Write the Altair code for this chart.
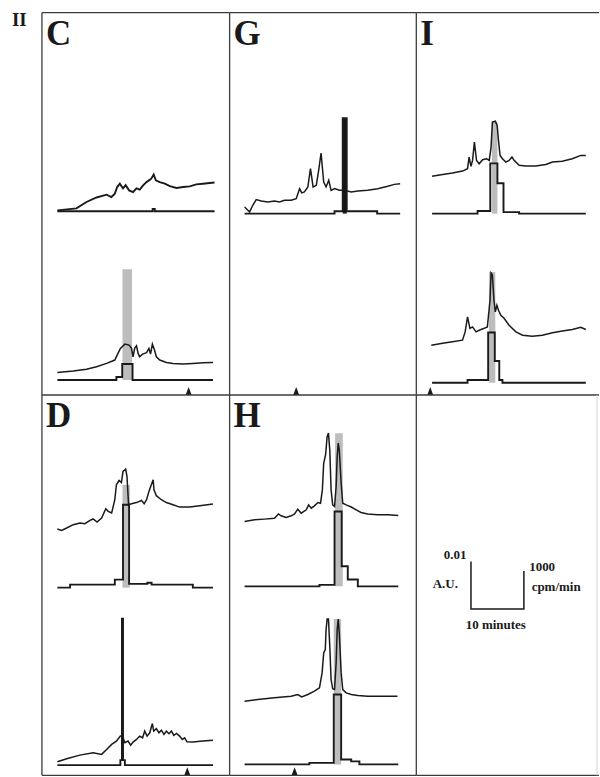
import altair as alt
import pandas as pd

# ---------------- values ----------------
# time in minutes; UV in mAU (0.001 A.U.) above the trace's radioactivity baseline;
# radioactivity in cpm per fraction (step histogram between edges)

C1_T = [0, 3.6, 5.5, 7.4, 9.3, 10.2, 10.85, 11.3, 11.8, 12.4, 12.9, 13.55, 14.3, 14.95, 15.55, 16.2,
        16.85, 17.3, 17.75, 18.2, 18.6, 19.35, 20.3, 21.25, 22.5, 23.75, 25.0, 26.25, 27.5, 28.75, 29.7]
C1_UV = [0.2, 0.6, 1.95, 2.9, 3.5, 3.0, 3.7, 5.1, 5.8, 4.8, 5.5, 4.4, 4.05, 4.8, 4.55, 5.45,
         6.15, 6.5, 6.85, 7.75, 6.5, 6.15, 5.8, 5.3, 4.9, 5.1, 5.25, 5.65, 5.8, 5.95, 6.05]
C1_EDGES = [0, 18.0, 18.4, 29.7]
C1_CPM = [0, 60, 0]

C2_T = [0, 3.0, 5.5, 7.4, 9.3, 10.85, 11.45, 11.9, 12.75, 13.55, 14.0, 14.3, 14.6, 14.95, 15.25,
        15.55, 16.1, 16.85, 17.3, 17.6, 17.95, 18.35, 18.7, 19.35, 20.6, 21.85, 23.75, 25.6, 27.5, 29.4]
C2_UV = [1.6, 1.9, 2.25, 2.8, 3.5, 4.2, 5.6, 6.65, 7.55, 7.35, 6.65, 4.9, 6.65, 7.2, 5.6,
         4.9, 5.45, 5.75, 6.65, 5.45, 7.55, 6.3, 4.9, 4.2, 3.7, 3.5, 3.35, 3.5, 3.65, 3.7]
C2_EDGES = [0, 11.15, 12.25, 14.2, 29.4]
C2_CPM = [0, 80, 420, 0]

G1_T = [0, 0.95, 1.55, 2.2, 3.15, 4.4, 5.65, 6.6, 7.55, 8.8, 9.75, 10.4, 10.8, 11.3, 11.95, 12.45,
        12.95, 13.55, 14.0, 14.45, 14.95, 15.4, 15.9, 16.35, 17.0, 17.9, 18.85, 20.15, 21.4, 23.25,
        25.15, 27.05, 28.3, 29.4]
G1_UV = [1.4, 0.35, 1.75, 2.95, 2.65, 2.45, 2.65, 2.45, 2.8, 2.8, 3.15, 5.25, 4.35, 4.55, 5.6, 9.45,
         5.6, 5.95, 9.1, 12.75, 6.65, 5.6, 7.0, 4.9, 5.25, 4.9, 4.9, 4.55, 4.75, 4.9,
         5.25, 5.75, 6.15, 6.3]
G1_EDGES = [0, 17.0, 18.55, 19.3, 25.05, 29.4]
G1_CPM = [0, 60, 2510, 60, 0]

I1_T = [0.15, 2.15, 4.0, 5.9, 6.85, 7.15, 7.5, 7.8, 8.15, 8.55, 9.05, 9.7, 10.45, 10.95, 11.3, 11.55,
        12.1, 12.45, 12.7, 13.0, 13.45, 14.1, 14.7, 15.25, 15.65, 16.6, 17.85, 19.75, 21.65, 22.9,
        24.75, 26.65, 28.25, 29.2]
I1_UV = [7.85, 8.25, 8.55, 8.95, 9.45, 11.9, 9.95, 11.2, 15.05, 11.2, 10.5, 11.35, 11.55, 11.2, 14.0,
         19.25, 19.45, 18.55, 15.4, 12.25, 11.55, 10.85, 11.2, 11.9, 11.2, 10.15, 10.0, 10.0, 10.35,
         10.85, 11.0, 11.55, 12.25, 12.25]
I1_EDGES = [0.15, 8.75, 11.15, 12.5, 13.65, 16.6, 29.2]
I1_CPM = [0, 70, 1320, 800, 40, 0]

I2_T = [0, 2.15, 4.0, 5.9, 6.4, 6.85, 7.3, 7.8, 8.45, 9.05, 10.0, 10.6, 11.1, 11.3, 11.55, 11.85,
        12.1, 12.4, 12.7, 13.15, 13.75, 14.7, 16.0, 17.25, 19.1, 21.0, 22.9, 24.75, 26.65, 28.25, 29.2]
I2_UV = [7.9, 8.3, 8.6, 8.95, 10.7, 13.85, 11.45, 11.75, 10.7, 11.05, 11.45, 11.75, 17.35, 23.1,
         22.65, 17.35, 14.9, 16.3, 15.25, 14.2, 13.55, 12.1, 10.7, 10.0, 9.8, 10.0, 10.5, 10.9,
         11.2, 11.65, 11.2]
I2_EDGES = [0.15, 6.85, 10.75, 12.0, 12.85, 13.45, 29.2]
I2_CPM = [0, 70, 1320, 570, 70, 0]

D1_T = [0, 0.8, 1.75, 3.0, 4.25, 5.2, 6.15, 6.75, 7.5, 8.35, 9.15, 9.6, 10.25, 10.85, 11.15, 11.65,
        12.1, 12.4, 12.9, 13.15, 13.45, 14.0, 14.95, 15.9, 16.4, 16.85, 17.3, 17.75, 18.1, 18.25,
        18.7, 19.65, 20.6, 21.85, 23.1, 25.0, 26.9, 29.4]
D1_UV = [12.35, 12.05, 12.55, 13.25, 13.6, 13.45, 14.15, 14.45, 13.8, 14.65, 16.6, 16.05, 15.7, 18.5,
         21.65, 22.55, 22.1, 24.45, 24.95, 23.4, 17.45, 17.65, 17.9, 18.35, 17.65, 18.5, 20.25, 21.65,
         22.7, 20.6, 19.35, 18.5, 17.9, 17.45, 16.95, 16.95, 17.25, 17.6]
D1_EDGES = [0, 2.4, 10.85, 12.4, 13.55, 17.0, 17.8, 25.6, 29.4]
D1_CPM = [0, 80, 210, 2180, 100, 130, 80, 0]

D2_T = [0, 1.75, 4.25, 6.75, 8.35, 9.3, 10.25, 11.15, 11.9, 12.3, 12.75, 13.35, 13.85, 14.3, 14.95,
        15.55, 16.1, 16.5, 16.95, 17.45, 17.95, 18.2, 18.7, 19.2, 19.65, 20.15, 20.6, 21.1, 21.55,
        22.0, 22.5, 23.1, 23.6, 24.05, 24.5, 25.6, 27.5, 29.4]
D2_UV = [0.7, 1.35, 2.1, 2.6, 2.25, 3.3, 4.35, 5.05, 6.1, 6.1, 4.7, 5.05, 4.2, 4.85, 5.4,
         6.1, 5.75, 7.15, 6.1, 6.8, 8.75, 7.15, 7.65, 6.8, 7.35, 6.45, 7.15, 6.6, 7.15,
         6.25, 6.65, 6.1, 5.4, 5.75, 4.9, 4.85, 5.05, 5.25]
D2_EDGES = [0, 11.9, 12.2, 12.4, 12.75, 29.4]
D2_CPM = [0, 130, 3850, 130, 0]

H1_T = [0, 1.9, 3.75, 5.65, 6.4, 6.9, 7.85, 8.8, 9.45, 10.05, 10.7, 11.65, 12.1, 12.6, 13.2, 13.85,
        14.35, 14.7, 14.95, 15.3, 15.6, 15.85, 16.1, 16.35, 16.65, 17.0, 17.3, 17.5, 17.7, 17.9,
        18.25, 18.55, 19.2, 20.15, 21.1, 22.0, 23.25, 25.15, 27.05, 29.05]
H1_UV = [13.65, 14.0, 14.15, 14.35, 15.25, 14.85, 14.5, 14.85, 15.25, 16.25, 15.4, 16.1, 17.15, 16.45,
         16.95, 17.65, 17.5, 20.3, 25.9, 27.65, 31.5, 32.25, 28.7, 20.3, 17.15, 16.8, 21.0, 27.3,
         30.15, 28.7, 21.7, 17.5, 17.15, 16.7, 16.1, 15.55, 15.25, 15.05, 15.05, 14.9]
H1_EDGES = [0, 14.15, 17.0, 18.35, 19.5, 21.4, 29.05]
H1_CPM = [0, 40, 1970, 530, 180, 0]

H2_T = [0, 2.5, 5.65, 8.8, 10.05, 10.8, 11.95, 13.2, 14.15, 14.65, 14.95, 15.25, 15.4, 15.6, 15.85,
        16.1, 16.35, 16.65, 17.0, 17.3, 17.5, 17.7, 17.9, 18.25, 18.55, 19.2, 20.15, 21.4, 23.25,
        25.15, 27.05, 28.9]
H2_UV = [13.3, 13.65, 14.0, 14.35, 14.7, 14.2, 14.7, 15.4, 16.1, 19.25, 23.45, 24.15, 28.35, 30.6,
         30.6, 24.85, 17.85, 15.9, 15.75, 21.35, 28.35, 30.6, 27.65, 19.25, 15.75, 15.05, 14.7,
         14.5, 14.35, 14.35, 14.35, 14.35]
H2_EDGES = [0, 12.25, 16.85, 18.25, 20.15, 21.7, 29.05]
H2_CPM = [0, 40, 1840, 130, 80, 0]

# shaded fractions: (start min, end min, height in mAU above baseline)
C2_HL = [12.3, 14.1, 23.3]
G1_HL = [18.55, 19.3, 20.1]
I1_HL = [11.45, 12.5, 19.3]
I2_HL = [10.9, 12.1, 23.3]
D1_HL = [12.3, 13.7, 21.6]
H1_HL = [17.1, 18.55, 32.2]
H2_HL = [16.85, 18.25, 30.6]

# arrowhead markers (minutes)
C_TRI = [24.8]
G_TRI = [9.75]
I_TRI = [-0.2]
D_TRI = [24.55]
H_TRI = [9.45]

# scale bar
SCALE_MIN = 10
SCALE_AU = 0.01
SCALE_CPM = 1000
LEGEND_LABELS = ["0.01", "A.U.", "1000", "cpm/min", "10 minutes"]

# ---------------- layout / style ----------------
PX_PER_MIN = 5.3
PX_PER_UNIT = 4.76          # pixels per mAU
CPM_PER_UNIT = 125.0        # 1000 cpm drawn as tall as 8 mAU
LEFT_W = 42
TOP_H = 12
COL_W = [188, 187, 183]
ROW_H = [383, 381]
X_OFF = [15.5, 15, 15]
INK = "#1a1a1a"
BORDER = "#3c3c3c"
GRAY = "#bdbdbd"
SERIF = "Liberation Serif"

SERIES = {
    "C1": (C1_T, C1_UV, C1_EDGES, C1_CPM), "C2": (C2_T, C2_UV, C2_EDGES, C2_CPM),
    "G1": (G1_T, G1_UV, G1_EDGES, G1_CPM),
    "I1": (I1_T, I1_UV, I1_EDGES, I1_CPM), "I2": (I2_T, I2_UV, I2_EDGES, I2_CPM),
    "D1": (D1_T, D1_UV, D1_EDGES, D1_CPM), "D2": (D2_T, D2_UV, D2_EDGES, D2_CPM),
    "H1": (H1_T, H1_UV, H1_EDGES, H1_CPM), "H2": (H2_T, H2_UV, H2_EDGES, H2_CPM),
}
BASE = {"C1": 38.66, "C2": 3.15, "G1": 38.17, "I1": 38.17, "I2": 2.58,
        "D1": 39.5, "D2": 2.16, "H1": 39.77, "H2": 2.31}
HIGHLIGHT = {"C2": (C2_HL, GRAY), "G1": (G1_HL, "#151515"), "I1": (I1_HL, GRAY),
             "I2": (I2_HL, GRAY), "D1": (D1_HL, GRAY), "H1": (H1_HL, GRAY), "H2": (H2_HL, GRAY)}
UV_WIDTH = {"C1": 1.9}

TRI_PATH = "M-0.75,0L0,-2L0.75,0Z"
ONE = pd.DataFrame({"a": [0]})


def rules(W, H, row, right=False):
    out = [
        alt.Chart(ONE).mark_rule(color=BORDER, strokeWidth=1.3).encode(
            x=alt.value(0), y=alt.value(0), y2=alt.value(H)),
        alt.Chart(ONE).mark_rule(color=BORDER, strokeWidth=1.3).encode(
            x=alt.value(0), x2=alt.value(W), y=alt.value(0)),
    ]
    if row == 1:
        out.append(alt.Chart(ONE).mark_rule(color=BORDER, strokeWidth=1.3).encode(
            x=alt.value(0), x2=alt.value(W), y=alt.value(H)))
    if right:
        out.append(alt.Chart(ONE).mark_rule(color="#d4d4d4", strokeWidth=1).encode(
            x=alt.value(W - 2), y=alt.value(0), y2=alt.value(H)))
    return out


def scales(col, row):
    W, H = COL_W[col], ROW_H[row]
    xs = alt.Scale(domain=[-X_OFF[col] / PX_PER_MIN, (W - X_OFF[col]) / PX_PER_MIN], nice=False, zero=False)
    ys = alt.Scale(domain=[0, H / PX_PER_UNIT], nice=False, zero=False)
    return xs, ys


def panel(letter, col, row, keys, tris):
    W, H = COL_W[col], ROW_H[row]
    xs, ys = scales(col, row)
    rad_rows, hl_rows = [], []
    uv_layers = []
    for k in keys:
        t, uv, edges, cpm = SERIES[k]
        b = BASE[k]
        uv_df = pd.DataFrame({"t": t, "y": [b + v for v in uv]})
        uv_layers.append(alt.Chart(uv_df).mark_line(
            color=INK, strokeWidth=UV_WIDTH.get(k, 1.5)).encode(
            x=alt.X("t:Q", scale=xs, axis=None), y=alt.Y("y:Q", scale=ys, axis=None)))
        for i, c in enumerate(cpm):
            rad_rows.append({"trace": k, "t": edges[i], "y": b + c / CPM_PER_UNIT})
        rad_rows.append({"trace": k, "t": edges[-1], "y": b + cpm[-1] / CPM_PER_UNIT})
        if k in HIGHLIGHT:
            hl, colr = HIGHLIGHT[k]
            hl_rows.append({"t0": hl[0], "t1": hl[1], "y0": b, "y1": b + hl[2], "color": colr})
    layers = []
    if hl_rows:
        layers.append(alt.Chart(pd.DataFrame(hl_rows)).mark_rect().encode(
            x=alt.X("t0:Q", scale=xs, axis=None), x2="t1:Q",
            y=alt.Y("y0:Q", scale=ys, axis=None), y2="y1:Q",
            color=alt.Color("color:N", scale=None)))
    if rad_rows:
        layers.append(alt.Chart(pd.DataFrame(rad_rows)).mark_line(
            interpolate="step-after", color=INK, strokeWidth=1.9).encode(
            x=alt.X("t:Q", scale=xs, axis=None), y=alt.Y("y:Q", scale=ys, axis=None),
            detail="trace:N"))
    layers += uv_layers
    if tris:
        layers.append(alt.Chart(pd.DataFrame({"t": tris, "y": [0] * len(tris)})).mark_point(
            shape=TRI_PATH, filled=True, size=64, color=INK, opacity=1).encode(
            x=alt.X("t:Q", scale=xs, axis=None), y=alt.Y("y:Q", scale=ys, axis=None)))
    layers.append(alt.Chart(pd.DataFrame({"label": [letter]})).mark_text(
        align="left", baseline="alphabetic", font=SERIF, fontSize=35, fontWeight="bold",
        color=INK).encode(text="label:N", x=alt.value(4), y=alt.value(32)))
    layers += rules(W, H, row)
    return alt.layer(*layers).properties(width=W, height=H)


def legend_panel(col, row):
    W, H = COL_W[col], ROW_H[row]
    xs, ys = scales(col, row)
    t0, y0 = 7.5, 35.0
    bar = pd.DataFrame({
        "t": [t0, t0, t0 + SCALE_MIN, t0 + SCALE_MIN],
        "y": [y0 + SCALE_AU * 1000, y0, y0, y0 + SCALE_CPM / CPM_PER_UNIT],
        "i": [0, 1, 2, 3],
    })
    lab = pd.DataFrame({
        "label": LEGEND_LABELS,
        "t": [4.5, 2.65, 20.95, 23.6, 12.2],
        "y": [45.5, 39.5, 43.1, 38.7, 30.9],
    })
    layers = [
        alt.Chart(bar).mark_line(color=INK, strokeWidth=1.5).encode(
            x=alt.X("t:Q", scale=xs, axis=None), y=alt.Y("y:Q", scale=ys, axis=None), order="i:O"),
        alt.Chart(lab).mark_text(font=SERIF, fontSize=13, fontWeight="bold", color=INK,
                                 align="center", baseline="alphabetic").encode(
            x=alt.X("t:Q", scale=xs, axis=None), y=alt.Y("y:Q", scale=ys, axis=None), text="label:N"),
    ]
    layers += rules(W, H, row, right=True)
    return alt.layer(*layers).properties(width=W, height=H)


def blank(w, h):
    return alt.Chart(ONE).mark_point(opacity=0, size=1).encode(
        x=alt.value(w / 2), y=alt.value(h / 2)).properties(width=w, height=h)


corner = alt.Chart(pd.DataFrame({"label": ["II"]})).mark_text(
    align="left", baseline="alphabetic", font=SERIF, fontSize=19, fontWeight="bold", color=INK
).encode(text="label:N", x=alt.value(12), y=alt.value(25)).properties(width=LEFT_W, height=TOP_H)

cells = [
    corner, blank(COL_W[0], TOP_H), blank(COL_W[1], TOP_H), blank(COL_W[2], TOP_H),
    blank(LEFT_W, ROW_H[0]),
    panel("C", 0, 0, ["C1", "C2"], C_TRI),
    panel("G", 1, 0, ["G1"], G_TRI),
    panel("I", 2, 0, ["I1", "I2"], I_TRI),
    blank(LEFT_W, ROW_H[1]),
    panel("D", 0, 1, ["D1", "D2"], D_TRI),
    panel("H", 1, 1, ["H1", "H2"], H_TRI),
    legend_panel(2, 1),
]

chart = alt.concat(*cells, columns=4, spacing=0, bounds="flush", align="each").properties(
    padding=0, background="white").configure_view(stroke=None)

chart.save("out.html", embed_options={"renderer": "svg", "actions": False})
